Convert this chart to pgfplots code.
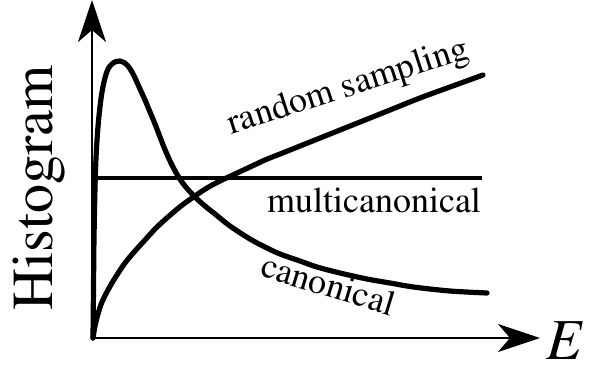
\documentclass[border=0pt]{standalone}
\usepackage[T1]{fontenc}
\usepackage{mathptmx}
\usepackage{pgfplots}
\pgfplotsset{compat=1.18}
\usetikzlibrary{arrows.meta}

\begin{document}
\begin{tikzpicture}
\path[use as bounding box] (0,0) rectangle (595pt,368pt);
\begin{axis}[
  at={(92pt,30pt)}, anchor=south west,
  scale only axis, width=448pt, height=338pt,
  xmin=92, xmax=540, ymin=30, ymax=368,
  enlargelimits=false,
  axis lines=left,
  axis line style={line width=2.4pt, -{Stealth[length=42pt,width=28pt,inset=12pt]}},
  xtick=\empty, ytick=\empty,
  clip=false,
]
% canonical distribution
\addplot[black, line width=5.2pt, line cap=round, line join=round, smooth, tension=0.6] coordinates {
  (93,30) (93.5,80) (94,130) (95,180) (96,210) (97.5,235) (99.5,257) (102,276)
  (105,290) (108,299) (112,304) (116,306.5) (120,307) (124,305.5) (128,302)
  (132,296) (136,288) (140,279) (145,268) (150,256) (155,244) (160,231)
  (166,216) (172,203) (178,192) (185,182) (195,171) (205,162) (215,154)
  (230,142) (250,129) (265,121) (280,114) (300,107) (317,101) (340,95)
  (367,89) (390,85) (410,81.5) (430,79) (450,77) (470,75.8) (487,75)
};
% multicanonical distribution (flat)
\addplot[black, line width=3.6pt] coordinates {
  (94,30) (94,190) (482,190)
};
% random sampling
\addplot[black, line width=5.2pt, line cap=round, line join=round, smooth, tension=0.6] coordinates {
  (93,30) (95,42) (98,54) (102,66) (108,78) (115,90) (125,105) (135,117)
  (145,128) (156,140) (168,151) (181,162) (195,172) (207,180) (220,187)
  (235,194) (250,201) (265,208) (280,214) (295,220) (310,226) (335,236)
  (360,246) (390,258) (420,270) (450,281) (483,293)
};
\node[anchor=base, inner sep=0pt, rotate=17.8, font=\fontsize{36}{40}\selectfont] at (axis cs:351,272) {random sampling};
\node[anchor=base, inner sep=0pt, font=\fontsize{36}{40}\selectfont] at (axis cs:374,156) {multicanonical};
\node[anchor=base, inner sep=0pt, rotate=-17, font=\fontsize{36}{40}\selectfont] at (axis cs:325,72) {canonical};
\node[anchor=base, inner sep=0pt, rotate=90, font=\fontsize{58}{60}\selectfont] at (axis cs:53,180) {Histogram};
\node[anchor=base, inner sep=0pt, font=\fontsize{58}{60}\selectfont] at (axis cs:565,9) {\textit{E}};
\end{axis}
\end{tikzpicture}
\end{document}
